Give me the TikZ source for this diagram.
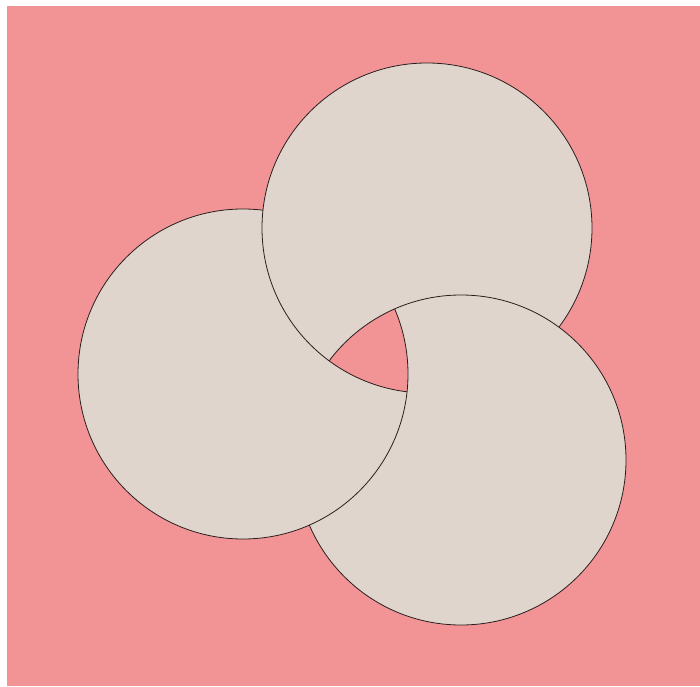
\documentclass[tikz,border=0pt]{standalone}
\usetikzlibrary{positioning}
\definecolor{ringpink}{RGB}{242,148,150}
\definecolor{ringsand}{RGB}{224,213,204}
\definecolor{ringedge}{RGB}{40,30,30}
\newcommand\ringr{165}
\tikzset{
  rdisc/.style={fill=ringsand},
  rline/.style={draw=ringedge, line width=0.8pt},
  outside/.style={insert path={(0,0) -- (0,686) -- (700,686) -- (700,0) -- cycle}},
}
\begin{document}
\begin{tikzpicture}[x=1pt,y=1pt]
  \useasboundingbox (0,0) rectangle (700,686);
  \fill[ringpink] (7,0) rectangle (700,680);
  \coordinate (top) at (427,458);
  \coordinate (left) at (243,312);
  \coordinate (right) at (461,226);
  % discs
  \fill[rdisc] (top) circle (\ringr);
  \fill[rdisc] (left) circle (\ringr);
  \fill[rdisc] (right) circle (\ringr);
  % outlines, each one hidden under the disc that lies over it
  \begin{scope}
    \clip[outside] (right) circle (\ringr);
    \draw[rline] (top) circle (\ringr);
  \end{scope}
  \begin{scope}
    \clip[outside] (top) circle (\ringr);
    \draw[rline] (left) circle (\ringr);
  \end{scope}
  \begin{scope}
    \clip[outside] (left) circle (\ringr);
    \draw[rline] (right) circle (\ringr);
  \end{scope}
  % hole in the middle
  \begin{scope}
    \clip (top) circle (\ringr);
    \clip (left) circle (\ringr);
    \fill[ringpink] (right) circle (\ringr);
    \draw[rline] (right) circle (\ringr);
  \end{scope}
  \begin{scope}
    \clip (right) circle (\ringr);
    \clip (left) circle (\ringr);
    \draw[rline] (top) circle (\ringr);
  \end{scope}
  \begin{scope}
    \clip (top) circle (\ringr);
    \clip (right) circle (\ringr);
    \draw[rline] (left) circle (\ringr);
  \end{scope}
\end{tikzpicture}
\end{document}
